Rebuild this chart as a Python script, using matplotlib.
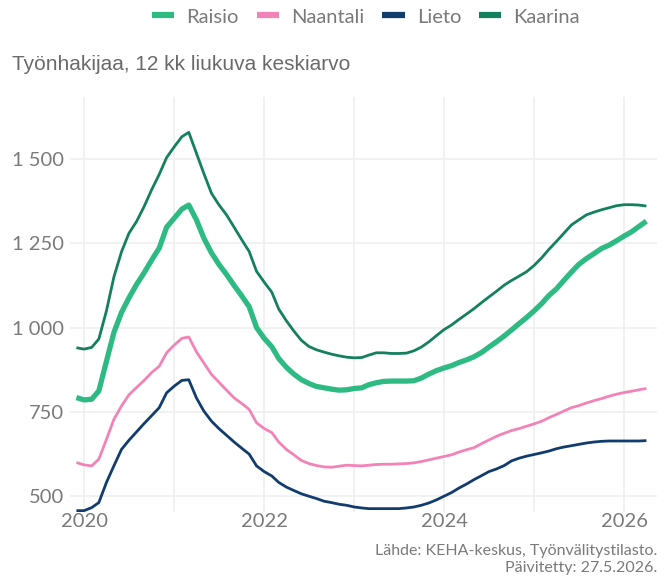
import matplotlib
matplotlib.use('Agg')
import matplotlib.pyplot as plt
import matplotlib.dates as mdates
from matplotlib.ticker import FixedLocator, FuncFormatter
import pandas as pd

# monthly 12-month moving average, Dec 2019 .. Apr 2026
months = pd.date_range('2019-12-01', periods=77, freq='MS')

raisio = [792, 785, 787, 812, 900, 985, 1045, 1088, 1128, 1163, 1200, 1236, 1298, 1325, 1352, 1364,
          1320, 1266, 1222, 1188, 1158, 1125, 1095, 1062, 1000, 968, 943, 908, 882, 862, 845, 834,
          825, 821, 817, 814, 815, 819, 821, 830, 836, 840, 841, 841, 841, 842, 850, 862, 872, 880,
          887, 896, 904, 913, 926, 942, 958, 975, 993, 1012, 1030, 1050, 1072, 1095, 1115, 1140,
          1165, 1188, 1205, 1220, 1235, 1245, 1258, 1272, 1285, 1300, 1316]
naantali = [599, 592, 589, 609, 668, 727, 767, 800, 822, 843, 866, 885, 925, 948, 968, 972,
            928, 895, 861, 838, 814, 791, 775, 757, 717, 700, 688, 660, 638, 622, 605, 596,
            590, 586, 585, 588, 591, 590, 589, 591, 593, 594, 594, 595, 596, 598, 602, 607, 612, 617,
            622, 630, 637, 643, 655, 666, 677, 686, 694, 700, 707, 714, 722, 732, 742, 752,
            762, 768, 776, 783, 789, 796, 802, 807, 811, 815, 819]
lieto = [456, 456, 465, 480, 540, 589, 638, 665, 690, 715, 738, 762, 806, 826, 843, 845,
         791, 752, 722, 700, 680, 660, 642, 624, 589, 572, 559, 540, 526, 516, 506, 499,
         492, 484, 480, 475, 472, 467, 464, 462, 462, 462, 462, 462, 464, 467, 472, 479, 488, 499,
         510, 523, 535, 548, 560, 572, 580, 590, 604, 612, 618, 623, 628, 633, 640, 645,
         649, 653, 657, 660, 662, 663, 663, 663, 663, 663, 664]
kaarina = [940, 936, 941, 966, 1050, 1150, 1225, 1280, 1315, 1360, 1409, 1455, 1505, 1537, 1567, 1580,
           1518, 1458, 1399, 1365, 1335, 1298, 1262, 1226, 1167, 1135, 1105, 1055, 1020, 990, 962, 944,
           934, 927, 921, 916, 912, 910, 911, 918, 925, 925, 923, 923, 924, 931, 942, 958, 976, 994,
           1008, 1024, 1040, 1056, 1074, 1091, 1108, 1126, 1140, 1153, 1166, 1185, 1208, 1232, 1256, 1280,
           1305, 1320, 1335, 1343, 1350, 1356, 1362, 1365, 1365, 1364, 1361]

series = [('Raisio', raisio, '#2dba83', 3.8),
          ('Naantali', naantali, '#f283b6', 2.0),
          ('Lieto', lieto, '#123c6e', 2.0),
          ('Kaarina', kaarina, '#14805e', 2.0)]

yticks = [500, 750, 1000, 1250, 1500]

grey = '#7a7a7a'
plt.rcParams['font.family'] = ['Lato', 'DejaVu Sans']

fig = plt.figure(figsize=(6.67, 5.79), dpi=100)
ax = fig.add_axes([70/667, 1 - 512/579, 587/667, 415/579])

for name, vals, col, lw in series:
    ax.plot(months, vals, color=col, lw=lw, label=name, solid_capstyle='butt')

ax.set_xlim(pd.Timestamp('2019-11-05'), pd.Timestamp('2026-05-14'))
ax.set_ylim(452, 1685)

ax.xaxis.set_major_locator(mdates.YearLocator(2))
ax.xaxis.set_major_formatter(mdates.DateFormatter('%Y'))
ax.xaxis.set_minor_locator(mdates.YearLocator(1))
ax.yaxis.set_major_locator(FixedLocator(yticks))
ax.yaxis.set_major_formatter(FuncFormatter(lambda v, p: f'{int(v):,}'.replace(',', ' ')))

ax.grid(True, which='both', axis='x', color='#f0f0f0', lw=1.3)
ax.grid(True, which='major', axis='y', color='#f0f0f0', lw=1.3)
ax.set_axisbelow(True)
for s in ax.spines.values():
    s.set_visible(False)
ax.tick_params(axis='both', which='both', length=0, colors=grey, labelsize=14.5)
ax.tick_params(axis='x', pad=1)
ax.tick_params(axis='y', pad=4)

fig.text(12/667, 1 - 65/579, 'Työnhakijaa, 12 kk liukuva keskiarvo', ha='left', va='center',
         fontsize=15, color='#6a6a6a',
         family=['Liberation Sans Narrow', 'Liberation Sans'])

leg = fig.legend(loc='center', bbox_to_anchor=(366/667, 1 - 17/579), ncol=4, frameon=False,
                 fontsize=14.5, handlelength=1.1, handletextpad=0.6, columnspacing=0.9,
                 labelcolor=grey)
for h in leg.get_lines():
    h.set_linewidth(4.5)

fig.text(657/667, 1 - 551/579, 'Lähde: KEHA-keskus, Työnvälitystilasto.', ha='right', va='center',
         fontsize=11.5, color=grey)
fig.text(657/667, 1 - 568/579, 'Päivitetty: 27.5.2026.', ha='right', va='center',
         fontsize=11.5, color=grey)

fig.savefig('out.png', dpi=100)
